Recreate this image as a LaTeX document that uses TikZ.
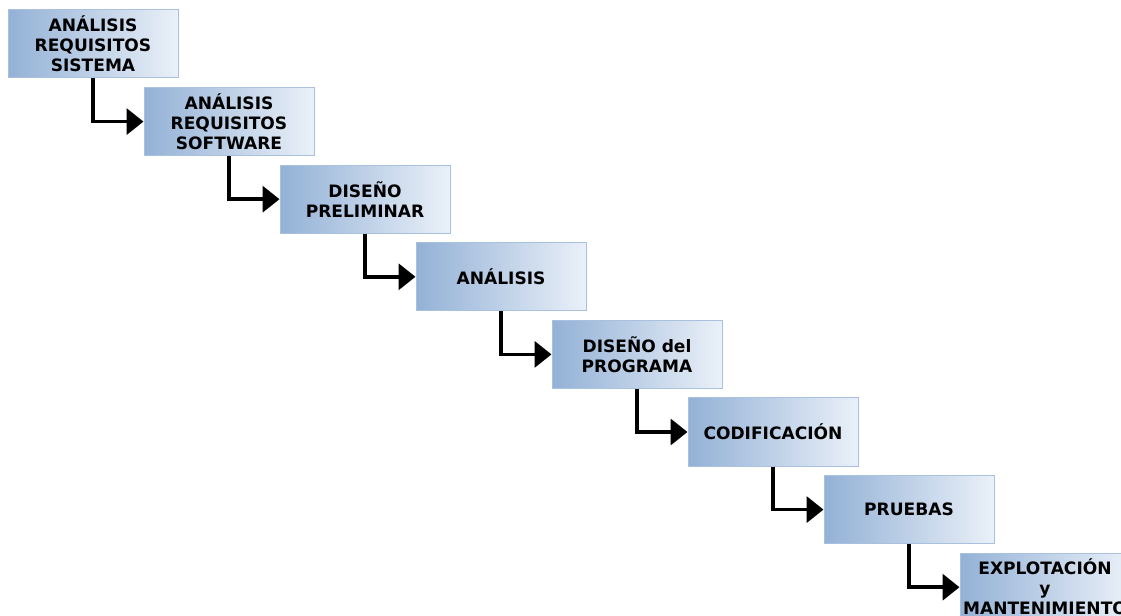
\documentclass[tikz,border=0pt]{standalone}
\usepackage{fontspec}
\setmainfont{DejaVu Sans}
\usetikzlibrary{arrows.meta}
\definecolor{stagedark}{HTML}{93B1D6}
\definecolor{stagelight}{HTML}{EAF0F8}
\definecolor{stageedge}{HTML}{A9C0DE}
\begin{document}
\begin{tikzpicture}[x=0.75pt,y=-0.75pt,
  stage/.style={draw=stageedge, line width=0.75pt, left color=stagedark,
    right color=stagelight, minimum width=127.5pt, minimum height=51pt,
    inner sep=0pt, align=center, text=black,
    font=\bfseries\fontsize{12.8}{15}\selectfont},
  flow/.style={line width=2.8pt, draw=black,
    -{Triangle[length=12.75pt,width=19.5pt]}}]
\useasboundingbox (0,0) rectangle (1121,616);
% waterfall stages, each shifted right and down from the previous one
\node[stage] (s1) at (93,44)     {ANÁLISIS\\REQUISITOS\\SISTEMA};
\node[stage] (s2) at (229,121.6) {ANÁLISIS\\REQUISITOS\\SOFTWARE};
\node[stage] (s3) at (365,199.2) {DISEÑO\\PRELIMINAR};
\node[stage] (s4) at (501,276.8) {ANÁLISIS};
\node[stage] (s5) at (637,354.4) {DISEÑO del\\PROGRAMA};
\node[stage] (s6) at (773,432)   {CODIFICACIÓN};
\node[stage] (s7) at (909,509.6) {PRUEBAS};
\node[stage] (s8) at (1045,587.2){EXPLOTACIÓN\\y\\MANTENIMIENTO};
% elbow connectors between consecutive stages
\foreach \a/\b in {s1/s2,s2/s3,s3/s4,s4/s5,s5/s6,s6/s7,s7/s8}
  \draw[flow] (\a.south) |- (\b.west);
\end{tikzpicture}
\end{document}
